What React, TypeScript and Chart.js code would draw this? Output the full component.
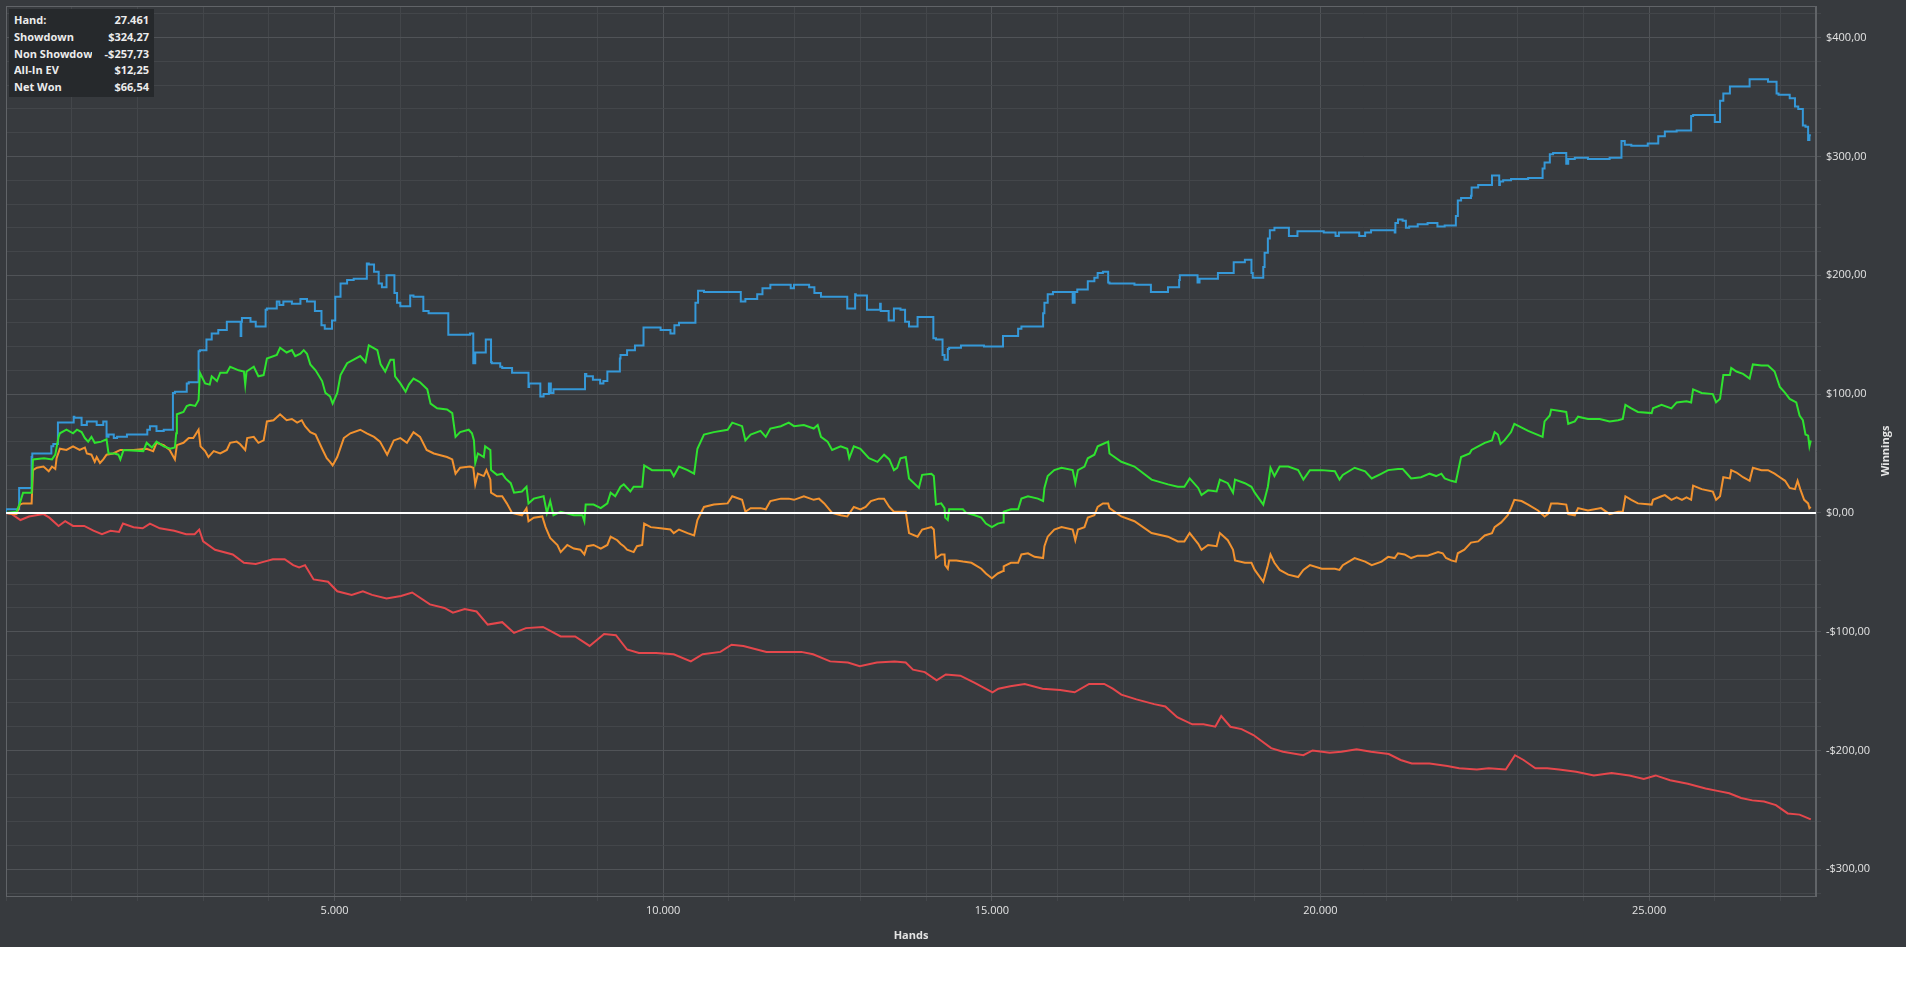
import React, { useEffect, useRef } from "react";
import { Chart, registerables } from "chart.js";

Chart.register(...registerables);

// ---------- DATA ----------
const showdownHands = [0,160,200,240,390,400,470,690,720,790,800,1030,1040,1150,1230,1380,1480,1530,1560,1640,1690,1840,2150,2190,2290,2400,2540,2570,2750,2780,2930,2950,3050,3130,3230,3360,3430,3510,3570,3580,3590,3720,3800,3820,3950,3970,4120,4160,4220,4350,4480,4580,4700,4800,4850,4960,5010,5090,5190,5290,5490,5520,5600,5670,5720,5790,5850,5910,5950,6000,6150,6200,6350,6430,6730,6810,7060,7110,7140,7170,7300,7310,7380,7390,7520,7550,7700,7730,7950,7960,8130,8180,8260,8290,8330,8430,8810,8830,8930,9040,9090,9150,9200,9340,9350,9450,9570,9630,9700,9720,9960,10110,10170,10240,10490,10530,10620,11180,11250,11430,11510,11630,11940,11990,12220,12300,12400,12570,12800,12830,12920,12930,13100,13160,13300,13310,13430,13510,13610,13680,13740,13870,13920,14110,14150,14250,14280,14330,14350,14530,14880,14950,15170,15180,15400,15450,15550,15780,15800,15850,15930,16000,16230,16260,16300,16460,16560,16610,16690,16770,16790,17170,17420,17440,17680,17700,17850,17860,17980,18130,18160,18440,18470,18680,18700,18850,18950,18970,19050,19130,19150,19200,19230,19300,19380,19520,19560,19650,19700,20050,20230,20280,20360,20590,20680,20770,20920,21130,21140,21180,21250,21300,21350,21480,21630,21780,21890,22060,22090,22140,22290,22300,22400,22500,22610,22640,22720,22730,22780,22900,23160,23380,23410,23490,23540,23740,23770,23870,24070,24400,24580,24630,24730,24980,25140,25240,25420,25640,25670,25850,26000,26010,26080,26130,26230,26310,26530,26590,26810,26940,26970,27140,27220,27270,27340,27380,27420,27440,27461];
const showdownValues = [0,3,3,21,21,47,50,50,56,58,76,76,81,80,74,77,74,77,64,66,63,64,66,70,73,69,70,101,102,109,110,136,137,146,151,154,161,161,161,149,161,164,161,157,157,171,172,178,175,178,176,180,178,170,158,155,162,182,193,196,197,210,209,203,193,190,200,200,185,177,174,183,182,170,168,150,150,151,126,135,135,146,146,127,126,123,122,118,118,106,109,98,100,109,101,104,104,117,115,112,109,111,119,119,130,133,137,141,141,156,156,154,151,158,160,177,187,186,178,180,184,189,192,189,192,190,185,182,182,172,172,184,183,171,171,176,170,162,172,171,161,157,165,165,147,146,133,129,138,139,141,140,140,149,149,155,157,157,168,177,184,186,186,177,186,188,195,198,202,203,194,193,192,186,186,190,190,196,200,200,194,197,202,202,211,211,213,202,198,198,207,219,231,238,240,240,233,233,237,237,236,233,236,236,233,236,238,238,236,244,247,246,240,241,243,244,241,242,250,263,265,267,274,276,276,284,284,276,279,280,281,282,290,295,302,303,294,298,299,298,299,313,310,309,311,317,321,322,334,335,335,329,329,347,353,359,359,365,365,363,353,352,349,342,340,326,325,314,318];

const nonShowdownHands = [0,90,220,350,570,660,800,900,1020,1190,1330,1460,1590,1720,1780,1940,2080,2190,2340,2560,2740,2870,2940,3000,3180,3450,3620,3800,3930,4060,4240,4370,4460,4550,4680,4900,5040,5260,5430,5570,5790,6010,6180,6450,6670,6800,6980,7160,7330,7550,7730,7910,8170,8440,8660,8880,9100,9280,9450,9630,9890,10160,10420,10600,10870,11040,11220,11570,11840,12100,12280,12540,12810,12990,13250,13520,13690,13800,13980,14160,14300,14520,14740,15010,15100,15280,15500,15770,16040,16260,16480,16710,16840,16970,17200,17470,17640,17820,18050,18220,18400,18490,18630,18800,18980,19250,19430,19740,19880,20140,20320,20550,20770,21040,21220,21390,21660,21930,22110,22380,22560,22820,22960,23090,23270,23450,23630,23890,24160,24430,24700,24920,25100,25320,25590,25860,26040,26220,26400,26570,26750,26930,27110,27290,27461];
const nonShowdownValues = [0,-1,-6,-3,-1,-4,-11,-7,-11,-11,-15,-18,-15,-16,-9,-12,-13,-9,-13,-15,-18,-18,-14,-24,-31,-35,-42,-43,-41,-39,-39,-44,-46,-44,-56,-58,-66,-69,-66,-69,-72,-70,-67,-77,-80,-84,-81,-83,-94,-92,-101,-97,-96,-104,-104,-112,-102,-103,-115,-118,-118,-119,-125,-119,-117,-111,-112,-117,-117,-117,-119,-125,-126,-129,-126,-125,-126,-132,-134,-141,-136,-137,-143,-151,-148,-146,-144,-148,-149,-151,-144,-144,-148,-153,-157,-161,-163,-172,-178,-178,-180,-171,-180,-182,-187,-198,-201,-204,-200,-202,-201,-199,-201,-203,-208,-211,-211,-213,-215,-216,-215,-216,-204,-208,-215,-215,-216,-218,-221,-219,-221,-224,-221,-225,-228,-232,-234,-236,-240,-242,-243,-246,-253,-254,-258];

const allInEvHands = [0,160,210,260,390,410,470,570,650,700,750,770,820,920,1020,1120,1200,1230,1300,1350,1380,1430,1480,1530,1630,1740,1940,2140,2240,2290,2400,2490,2570,2600,2700,2780,2850,2930,2960,3030,3080,3160,3260,3360,3410,3510,3560,3640,3670,3770,3840,3920,3970,4070,4170,4270,4350,4430,4500,4550,4630,4710,4810,4880,4930,4970,5040,5140,5240,5390,5490,5600,5690,5800,5900,6000,6100,6200,6300,6400,6510,6710,6790,6840,6910,7060,7110,7140,7180,7270,7310,7370,7380,7470,7550,7620,7700,7850,7920,7950,8030,8160,8210,8280,8390,8440,8540,8640,8740,8800,8840,8940,9050,9150,9200,9300,9350,9400,9450,9550,9600,9680,9710,9810,9960,10110,10160,10240,10370,10470,10520,10620,10770,10980,11050,11200,11250,11330,11480,11560,11630,11790,11910,11990,12140,12290,12370,12450,12570,12700,12800,12900,13000,13080,13160,13280,13360,13440,13510,13690,13740,13870,13940,14080,14117,14150,14230,14280,14290,14330,14350,14460,14560,14690,14840,14910,15000,15090,15170,15180,15290,15400,15450,15550,15650,15780,15800,15850,15950,16060,16230,16270,16310,16410,16460,16560,16610,16690,16770,16790,16970,17170,17430,17680,17830,17930,18010,18140,18190,18290,18420,18470,18590,18670,18700,18850,18950,19000,19130,19200,19240,19300,19380,19510,19660,19740,19840,20020,20220,20290,20340,20520,20680,20780,20930,21030,21130,21180,21280,21380,21480,21630,21790,21860,21910,21990,22060,22090,22190,22290,22400,22500,22610,22650,22750,22850,22900,22950,23060,23160,23310,23390,23410,23460,23510,23610,23740,23770,23870,23920,24070,24270,24400,24530,24600,24640,24730,24830,25040,25060,25190,25240,25340,25420,25500,25570,25640,25670,25800,25970,26020,26080,26130,26230,26250,26330,26430,26530,26580,26710,26810,26910,26990,27070,27140,27220,27260,27300,27360,27420,27440,27461];
const allInEvValues = [0,-1,7,8,8,36,38,39,35,39,37,46,54,53,56,53,55,50,49,43,47,42,45,49,50,53,53,54,52,59,57,53,45,57,59,63,63,70,56,52,47,52,50,53,59,60,58,53,63,64,59,61,77,78,83,78,79,76,78,73,68,66,54,46,43,40,47,63,67,70,67,64,60,49,61,63,59,68,64,53,50,47,45,33,38,39,38,24,33,31,36,28,17,14,14,8,0,-2,4,-7,-4,-3,-12,-21,-27,-33,-27,-30,-31,-35,-28,-27,-30,-27,-20,-23,-26,-28,-31,-33,-28,-27,-9,-12,-13,-14,-17,-14,-17,-19,-6,5,7,8,14,11,1,4,4,3,10,12,12,11,14,11,12,8,0,-2,-3,5,3,5,10,12,12,5,1,1,-17,-20,-14,-12,-14,-38,-35,-35,-44,-47,-40,-40,-41,-42,-47,-51,-55,-51,-49,-45,-42,-42,-35,-34,-37,-38,-28,-20,-14,-12,-14,-23,-14,-12,-4,-2,5,8,8,4,-3,-7,-17,-20,-24,-24,-17,-26,-31,-27,-28,-17,-23,-31,-40,-42,-42,-48,-58,-44,-35,-42,-48,-52,-54,-48,-44,-47,-47,-48,-44,-38,-41,-44,-41,-37,-38,-34,-35,-38,-36,-36,-33,-34,-38,-40,-41,-34,-31,-25,-24,-19,-17,-12,-8,-2,4,11,10,7,2,-2,-3,-1,8,8,7,-1,-2,4,2,4,-1,1,1,14,11,8,7,11,14,15,11,13,11,13,11,23,20,18,11,14,30,29,36,34,30,27,38,36,36,33,30,27,21,20,27,20,11,8,4,5];

const netWonHands = [0,160,210,260,390,410,580,700,750,800,820,920,1020,1080,1150,1200,1250,1300,1350,1450,1530,1560,1650,1710,1740,1790,2090,2140,2220,2290,2400,2500,2570,2590,2600,2700,2750,2800,2880,2930,2950,3030,3100,3130,3210,3260,3360,3410,3540,3620,3640,3660,3770,3840,3920,3970,4120,4170,4270,4350,4400,4480,4530,4580,4630,4710,4810,4860,4930,4970,5040,5090,5190,5290,5390,5470,5520,5650,5700,5770,5850,5900,5920,6000,6080,6130,6200,6300,6410,6460,6560,6710,6790,6840,6910,7040,7090,7120,7140,7180,7270,7290,7370,7380,7470,7550,7600,7680,7730,7850,7920,7950,8030,8180,8230,8280,8330,8440,8640,8770,8800,8820,8940,9050,9150,9200,9270,9350,9400,9500,9550,9680,9710,9830,10110,10160,10240,10370,10470,10520,10620,10770,10980,11050,11200,11250,11330,11480,11560,11630,11790,11910,11990,12140,12290,12350,12400,12500,12570,12700,12800,12830,12900,13000,13130,13260,13360,13440,13510,13560,13610,13690,13740,13890,13940,14080,14117,14150,14230,14280,14290,14330,14350,14560,14610,14740,14840,14910,15000,15090,15170,15180,15290,15400,15450,15550,15700,15780,15800,15850,15950,16060,16230,16270,16310,16410,16460,16560,16610,16690,16770,16790,16970,17170,17430,17680,17830,17930,18010,18140,18190,18290,18420,18470,18590,18670,18700,18850,18950,19000,19130,19200,19240,19300,19380,19510,19660,19740,19840,20020,20220,20290,20340,20520,20680,20780,20930,21030,21180,21250,21300,21380,21530,21660,21760,21840,21890,21990,22060,22090,22140,22270,22300,22400,22500,22610,22650,22700,22740,22800,22900,22950,23160,23380,23410,23490,23510,23740,23770,23870,23920,24070,24250,24400,24530,24600,24640,24730,24830,25040,25060,25190,25340,25420,25570,25640,25670,25800,25970,26020,26080,26130,26230,26250,26330,26430,26530,26580,26710,26810,26910,26990,27070,27140,27240,27290,27340,27380,27420,27440,27461];
const netWonValues = [0,1,8,17,17,45,46,45,49,64,67,70,67,70,68,63,60,64,59,60,62,50,50,49,45,53,52,59,55,60,56,54,55,67,83,85,90,91,90,95,118,109,108,115,111,118,118,123,120,119,108,119,123,115,116,130,133,139,135,137,132,134,137,134,125,120,111,101,98,92,101,116,126,129,132,127,141,137,125,119,129,129,115,109,102,108,113,110,104,92,88,87,84,64,68,70,67,61,42,50,47,56,53,36,32,33,29,25,17,18,22,8,12,14,0,10,-2,1,-2,-2,-7,7,7,4,8,17,14,22,24,18,22,22,40,36,36,31,39,36,33,54,66,68,70,76,73,61,66,69,64,71,73,76,73,74,71,74,64,60,53,56,54,46,56,54,46,43,49,45,36,38,46,47,29,21,32,33,31,7,8,4,-4,-6,3,3,0,-2,-4,-9,-12,-9,-8,1,3,3,12,14,12,10,21,31,36,38,36,25,36,39,46,49,56,58,60,50,43,39,28,24,22,22,29,21,15,19,18,28,25,17,28,25,22,17,7,22,38,31,39,39,36,28,36,36,35,28,32,38,35,29,33,36,37,37,34,29,30,33,31,33,29,27,26,34,47,50,53,56,59,61,68,66,58,61,68,75,69,64,77,82,87,85,75,77,81,79,79,77,78,79,91,88,85,84,88,91,88,93,94,93,104,101,100,93,96,116,116,122,119,117,113,125,124,124,119,106,101,96,93,82,78,66,65,56,61];

const seriesNames = ["Net Won", "All-In EV", "Showdown", "Non Showdown"];
const seriesColors = ["#2fe32f", "#f2922f", "#3598d8", "#e5474c"];
const seriesStepped = [false, false, "after", false];

// x axis: gridline every 1000 hands, labels on the 5000s
const xGridStep = 1000;
const xLabelTicks = [5000, 10000, 15000, 20000, 25000];

const tooltipLabels = ["Hand:", "Showdown", "Non Showdown", "All-In EV", "Net Won"];
const tooltipValues = ["27.461", "$324,27", "-$257,73", "$12,25", "$66,54"];

const X_MIN = 0;
const X_MAX = 27540;
const Y_MIN = -322.5;
const Y_MAX = 426.7;

// ---------- STYLE ----------
const BG = "#373a3e";
const GRID_MAJOR = "#505357";
const GRID_MINOR = "#43464a";
const BORDER = "#616468";
const TEXT = "#e4e4e4";
const FONT = '"Segoe UI", "Open Sans", "Noto Sans", sans-serif';

const toPoints = (xs: number[], ys: number[]) => xs.map((x, i) => ({ x, y: ys[i] }));

const fmtMoney = (v: number) => {
  const s = Math.abs(v).toFixed(2).replace(".", ",");
  return (v < 0 ? "-$" : "$") + s;
};

const fmtHands = (v: number) => String(Math.round(v)).replace(/\B(?=(\d{3})+(?!\d))/g, ".");

export default function App() {
  const canvasRef = useRef<HTMLCanvasElement | null>(null);

  useEffect(() => {
    document.body.style.margin = "0";
    const canvas = canvasRef.current;
    if (!canvas) return;

    const frame = {
      id: "frame",
      beforeDatasetsDraw(chart: any) {
        const { ctx, chartArea } = chart;
        ctx.save();
        ctx.strokeStyle = BORDER;
        ctx.lineWidth = 1;
        ctx.strokeRect(
          Math.round(chartArea.left) + 0.5,
          Math.round(chartArea.top) + 0.5,
          Math.round(chartArea.right - chartArea.left) - 1,
          Math.round(chartArea.bottom - chartArea.top)
        );
        ctx.restore();
      },
      afterDraw(chart: any) {
        const { ctx, chartArea } = chart;
        ctx.save();
        ctx.fillStyle = TEXT;
        ctx.font = `bold 11px ${FONT}`;
        ctx.textAlign = "center";
        ctx.textBaseline = "middle";
        ctx.translate(1886, (chartArea.top + chartArea.bottom) / 2);
        ctx.rotate(-Math.PI / 2);
        ctx.fillText("Winnings", 0, 0);
        ctx.restore();
      },
    };

    const seriesData = [
      toPoints(netWonHands, netWonValues),
      toPoints(allInEvHands, allInEvValues),
      toPoints(showdownHands, showdownValues),
      toPoints(nonShowdownHands, nonShowdownValues),
    ];

    const datasets: any[] = [
      {
        label: "Zero",
        data: [
          { x: X_MIN, y: 0 },
          { x: X_MAX, y: 0 },
        ],
        borderColor: "#ffffff",
        borderWidth: 2,
        pointRadius: 0,
        order: -1,
      },
      ...seriesData.map((d, i) => ({
        label: seriesNames[i],
        data: d,
        borderColor: seriesColors[i],
        borderWidth: 2,
        pointRadius: 0,
        tension: 0,
        stepped: seriesStepped[i],
        order: i,
      })),
    ];

    const chart = new Chart(canvas, {
      type: "line",
      data: { datasets },
      plugins: [frame],
      options: {
        animation: false,
        responsive: true,
        maintainAspectRatio: false,
        layout: { padding: { left: 6, top: 6, right: 0, bottom: 0 } },
        plugins: {
          legend: { display: false },
          tooltip: { enabled: false },
        },
        scales: {
          x: {
            type: "linear",
            min: X_MIN,
            max: X_MAX,
            afterBuildTicks: (s: any) => {
              const t: any[] = [];
              for (let v = X_MIN; v <= X_MAX; v += xGridStep) t.push({ value: v });
              s.ticks = t;
            },
            afterFit: (s: any) => {
              s.height = 51;
              s.paddingLeft = 0;
              s.paddingRight = 0;
            },
            grid: {
              color: (c: any) =>
                c.tick && xLabelTicks.includes(c.tick.value) ? GRID_MAJOR : GRID_MINOR,
              tickLength: 5,
              lineWidth: 1,
            },
            border: { color: BORDER },
            ticks: {
              autoSkip: false,
              maxRotation: 0,
              minRotation: 0,
              padding: 3,
              color: TEXT,
              font: { family: FONT, size: 11 },
              callback: (v: any) => (xLabelTicks.includes(Number(v)) ? fmtHands(Number(v)) : ""),
            },
            title: {
              display: true,
              text: "Hands",
              color: TEXT,
              font: { family: FONT, size: 11, weight: "bold" },
              padding: { top: 0, bottom: 5 },
            },
          },
          y: {
            type: "linear",
            position: "right",
            min: Y_MIN,
            max: Y_MAX,
            afterFit: (s: any) => {
              s.width = 90;
              s.paddingTop = 0;
              s.paddingBottom = 0;
            },
            grid: {
              color: (c: any) => (c.tick && c.tick.value % 100 === 0 ? GRID_MAJOR : GRID_MINOR),
              tickLength: 5,
              lineWidth: 1,
            },
            border: { color: BORDER },
            ticks: {
              stepSize: 20,
              autoSkip: false,
              includeBounds: false,
              padding: 5,
              color: TEXT,
              font: { family: FONT, size: 11 },
              callback: (v: any) => {
                const n = Math.round(Number(v));
                if (n % 100 !== 0) return "";
                return fmtMoney(n);
              },
            },
          },
        },
      } as any,
    });

    return () => {
      chart.destroy();
    };
  }, []);

  return (
    <div
      style={{
        position: "fixed",
        left: 0,
        top: 0,
        width: 1906,
        height: 947,
        background: BG,
      }}
    >
      <canvas ref={canvasRef} />
      <div
        style={{
          position: "absolute",
          left: 9,
          top: 9,
          width: 145,
          height: 88,
          background: "#26292c",
          color: "#ececec",
          fontFamily: FONT,
          fontWeight: "bold",
          fontSize: 11,
          boxSizing: "border-box",
          paddingTop: 3,
        }}
      >
        {tooltipLabels.map((lab, i) => (
          <div
            key={lab}
            style={{ display: "flex", height: 16.75, lineHeight: "16.75px", paddingLeft: 5, paddingRight: 5 }}
          >
            <div style={{ width: 78, overflow: "hidden", whiteSpace: "nowrap" }}>{lab}</div>
            <div style={{ flex: 1, textAlign: "right", whiteSpace: "nowrap" }}>{tooltipValues[i]}</div>
          </div>
        ))}
      </div>
    </div>
  );
}
